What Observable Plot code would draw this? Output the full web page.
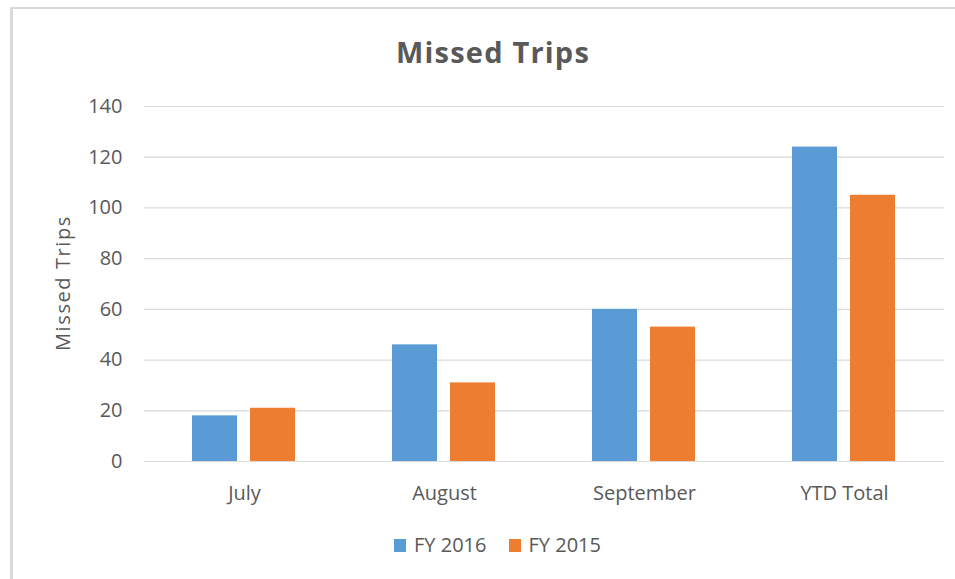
<!DOCTYPE html>
<html>
<head>
<meta charset="utf-8">
<script src="https://cdn.jsdelivr.net/npm/d3@7"></script>
<script src="https://cdn.jsdelivr.net/npm/@observablehq/plot@0.6"></script>
<style>
  html, body { margin: 0; padding: 0; background: #fff; }
  #wrap { position: relative; width: 955px; height: 579px; overflow: hidden; font-family: "Open Sans", sans-serif; color: #595959; }
  #frameL { position: absolute; left: 10px; top: 7px; width: 3px; height: 572px; background: #d9d9d9; }
  #frameT { position: absolute; left: 10px; top: 7px; width: 945px; height: 2px; background: #d9d9d9; }
  #chart { position: absolute; left: 0; top: 0; }
  #title { position: absolute; left: 0; width: 986px; top: 32px; text-align: center; font-weight: bold; font-size: 29px; letter-spacing: 1.2px; line-height: 40px; }
  #ylabel { position: absolute; left: 63px; top: 283px; transform: translate(-50%, -50%) rotate(-90deg); font-size: 20px; letter-spacing: 1.6px; white-space: nowrap; line-height: 24px; }
  #legend { position: absolute; top: 532px; left: 0; width: 995px; display: flex; justify-content: center; gap: 22px; font-size: 20px; line-height: 26px; }
  .item { display: flex; align-items: center; gap: 8px; }
  .sw { width: 12px; height: 13px; display: inline-block; }
</style>
</head>
<body>
<div id="wrap">
  <div id="frameL"></div>
  <div id="frameT"></div>
  <div id="chart"></div>
  <div id="title">Missed Trips</div>
  <div id="ylabel">Missed Trips</div>
  <div id="legend"></div>
</div>
<script>
const categories = ["July", "August", "September", "YTD Total"];
const series = ["FY 2016", "FY 2015"];
const fy2016 = [18, 46, 60, 124];
const fy2015 = [21, 31, 53, 105];
const yTicks = [0, 20, 40, 60, 80, 100, 120, 140];
const colors = ["#5B9BD5", "#ED7D31"];

const data = categories.flatMap((c, i) => [
  {category: c, series: series[0], value: fy2016[i]},
  {category: c, series: series[1], value: fy2015[i]}
]);

const chart = Plot.plot({
  width: 955,
  height: 579,
  marginTop: 106,
  marginBottom: 118,
  marginLeft: 144,
  marginRight: 11,
  style: {fontFamily: "Open Sans, sans-serif", fontSize: "20px", color: "#595959", background: "transparent"},
  fx: {domain: categories, padding: 0, label: null},
  x: {domain: series, paddingInner: 0.224, paddingOuter: 0.836, axis: null},
  y: {domain: [0, 140], label: null},
  color: {domain: series, range: colors},
  marks: [
    Plot.gridY(yTicks, {stroke: "#d9d9d9", strokeOpacity: 1, strokeWidth: 1.2}),
    Plot.barY(data, {fx: "category", x: "series", y: "value", fill: "series"}),
    Plot.axisY(yTicks, {tickSize: 0, tickPadding: 22, label: null, fontSize: 20}),
    Plot.axisFx({anchor: "bottom", tickSize: 0, tickPadding: 24, label: null, fontSize: 20})
  ]
});
document.getElementById("chart").appendChild(chart);

const legend = document.getElementById("legend");
series.forEach((s, i) => {
  const item = document.createElement("div");
  item.className = "item";
  const sw = document.createElement("span");
  sw.className = "sw";
  sw.style.background = colors[i];
  const t = document.createElement("span");
  t.textContent = s;
  item.appendChild(sw);
  item.appendChild(t);
  legend.appendChild(item);
});
</script>
</body>
</html>
